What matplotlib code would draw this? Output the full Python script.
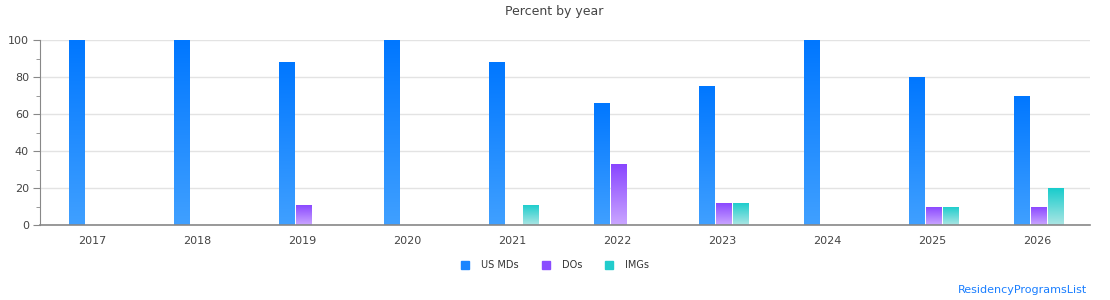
import numpy as np
import matplotlib
matplotlib.use("Agg")
import matplotlib.pyplot as plt
from matplotlib.colors import LinearSegmentedColormap
from matplotlib.ticker import MultipleLocator
from matplotlib.lines import Line2D

years = ["2017", "2018", "2019", "2020", "2021", "2022", "2023", "2024", "2025", "2026"]
us_mds = [100, 100, 88, 100, 88, 66, 75, 100, 80, 70]
dos = [0, 0, 11, 0, 0, 33, 12, 0, 10, 10]
imgs = [0, 0, 0, 0, 11, 0, 12, 0, 10, 20]
series_names = ["US MDs", "DOs", "IMGs"]

top_colors = ["#0077ff", "#8844ff", "#18cccc"]
bot_colors = ["#40a0ff", "#caa6ff", "#ace6e4"]
legend_colors = ["#1a85ff", "#8a4cff", "#22cccc"]

fig = plt.figure(figsize=(11.1, 3.0), dpi=100)
ax = fig.add_axes([40/1110, 75/300, 1050/1110, 185/300])

n = len(years)
x = np.arange(n) + 0.5
bw = 16/105
step = 17/105
shift = 1.5/105
grad = np.linspace(0, 1, 256).reshape(-1, 1)

for k, vals in enumerate([us_mds, dos, imgs]):
    cmap = LinearSegmentedColormap.from_list(f"g{k}", [bot_colors[k], top_colors[k]])
    bars = ax.bar(x + (k - 1) * step + shift, vals, width=bw, facecolor="none",
                  edgecolor="none", linewidth=0, zorder=3)
    for b in bars:
        h = b.get_height()
        if h <= 0:
            continue
        x0 = b.get_x()
        im = ax.imshow(grad, extent=[x0, x0 + b.get_width(), 0, h], origin="lower",
                       aspect="auto", cmap=cmap, zorder=2, interpolation="bilinear")
        im.set_clip_path(b)

ax.set_xlim(0, n)
ax.set_ylim(0, 100)
ax.set_xticks(x)
ax.set_xticklabels(years)
ax.tick_params(axis="x", length=0, pad=8, labelsize=8, labelcolor="#444444")
ax.yaxis.set_major_locator(MultipleLocator(20))
ax.yaxis.set_minor_locator(MultipleLocator(10))
ax.tick_params(axis="y", which="major", length=5, color="#888888", labelsize=8, labelcolor="#444444", pad=3)
ax.tick_params(axis="y", which="minor", length=3, color="#888888")
ax.grid(axis="y", color="#e3e3e3", linewidth=1, zorder=0)
ax.set_axisbelow(True)
for s in ["top", "right"]:
    ax.spines[s].set_visible(False)
ax.spines["left"].set_color("#888888")
ax.spines["bottom"].set_color("#888888")
ax.spines["bottom"].set_linewidth(1.2)

fig.text(554/1110, 1 - 12/300, "Percent by year", ha="center", va="center", fontsize=9, color="#444444")

handles = [Line2D([], [], marker="s", linestyle="none", markersize=5.5,
                  markerfacecolor=c, markeredgecolor=c) for c in legend_colors]
fig.legend(handles, series_names, loc="center", bbox_to_anchor=(554/1110, 1 - 265/300),
           ncol=3, frameon=False, fontsize=7, handletextpad=1.05, columnspacing=2.2,
           handlelength=1.2, labelcolor="#333333")

fig.text(1087/1110, 1 - 290/300, "ResidencyProgramsList", ha="right", va="center",
         fontsize=8, color="#1a7fff")

fig.savefig("out.png", dpi=100)
